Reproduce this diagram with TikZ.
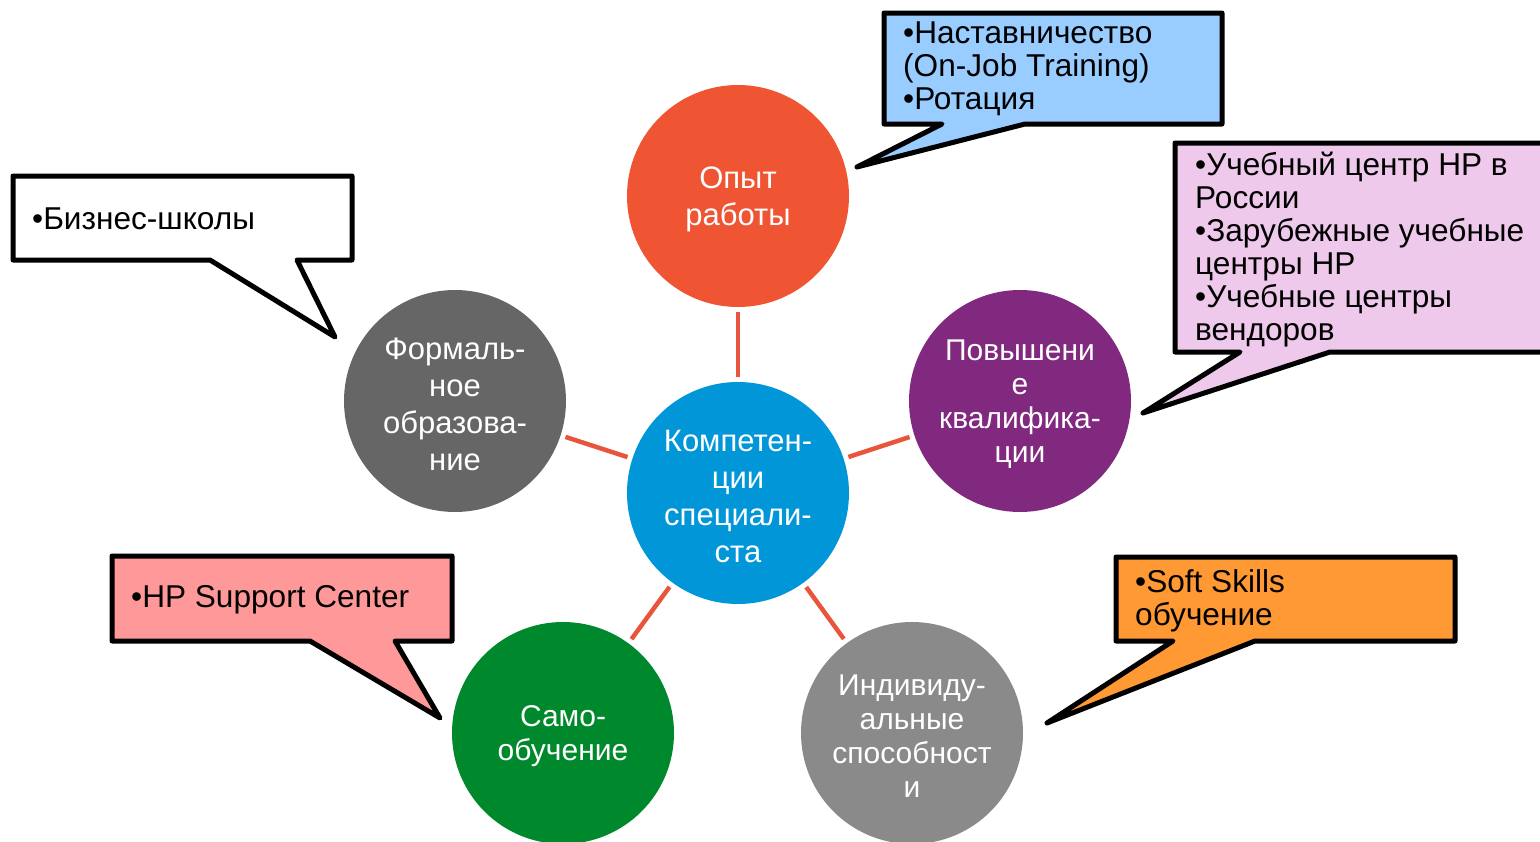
\documentclass[tikz,border=0pt]{standalone}
\usepackage{fontspec}
\setmainfont{Liberation Sans}
\definecolor{cBlue}{HTML}{0096D7}
\definecolor{cRed}{HTML}{EF5433}
\definecolor{cDark}{HTML}{666666}
\definecolor{cPurple}{HTML}{80297F}
\definecolor{cGreen}{HTML}{00892C}
\definecolor{cGrey}{HTML}{8A8A8A}
\definecolor{cLink}{HTML}{E8553C}
\definecolor{fBlue}{HTML}{99CCFF}
\definecolor{fPink}{HTML}{EEC9EB}
\definecolor{fRose}{HTML}{FF9999}
\definecolor{fOrange}{HTML}{FF9933}
\tikzset{
  bubble/.style={circle,minimum size=222pt,inner sep=0pt},
  btext/.style={text=white,align=center,inner sep=0pt,yshift=-3pt,
    font=\fontsize{31}{37}\selectfont},
  tighttext/.style={btext,font=\fontsize{30}{34}\selectfont},
  link/.style={draw=cLink,line width=4.5pt,shorten <=5pt,shorten >=5pt},
  callout/.style={draw=black,line width=5pt,line join=round},
  ctext/.style={anchor=west,align=left,inner sep=0pt,text=black,yshift=-3pt,
    font=\fontsize{31.6}{33}\selectfont}
}
\begin{document}
\begin{tikzpicture}[x=1pt,y=-1pt]
\useasboundingbox (0,0) rectangle (1540,841);
% circles
\node[bubble,fill=cBlue] (c) at (738,493) {};
\node[bubble,fill=cRed] (top) at (738,196) {};
\node[bubble,fill=cDark] (left) at (455,401) {};
\node[bubble,fill=cPurple] (right) at (1020,401) {};
\node[bubble,fill=cGreen] (bl) at (563,733) {};
\node[bubble,fill=cGrey] (br) at (912,733) {};
\node[btext] (lc) at (c) {Компетен-\\ции\\специали-\\ста};
\node[btext] (ltop) at (top) {Опыт\\работы};
\node[btext] (lleft) at (left) {Формаль-\\ное\\образова-\\ние};
\node[tighttext] (lright) at (right) {Повышени\\е\\квалифика-\\ции};
\node[tighttext] (lbl) at (bl) {Само-\\обучение};
\node[tighttext] (lbr) at (br) {Индивиду-\\альные\\способност\\и};
% links
\draw[link] (c) -- (top);
\draw[link] (c) -- (left);
\draw[link] (c) -- (right);
\draw[link] (c) -- (bl);
\draw[link] (c) -- (br);
% callout tips
\coordinate (tBlue) at (857,167);
\coordinate (tPink) at (1143,413);
\coordinate (tWhite) at (335,337);
\coordinate (tRose) at (440,718);
\coordinate (tOrange) at (1047,723);
% callouts
\draw[callout,fill=fBlue] (884,13) -- (1222,13) -- (1222,124) -- (1025,124) -- (tBlue) -- (942,124) -- (884,124) -- cycle;
\draw[callout,fill=fPink] (1175,143) -- (1550,143) -- (1550,352) -- (1330,352) -- (tPink) -- (1240,352) -- (1175,352) -- cycle;
\draw[callout,fill=white] (13,176) -- (352,176) -- (352,260) -- (297,260) -- (tWhite) -- (210,260) -- (13,260) -- cycle;
\draw[callout,fill=fRose] (112,556) -- (452,556) -- (452,641) -- (395,641) -- (tRose) -- (310,641) -- (112,641) -- cycle;
\draw[callout,fill=fOrange] (1116,557) -- (1455,557) -- (1455,641) -- (1255,641) -- (tOrange) -- (1173,641) -- (1116,641) -- cycle;
% callout texts
\node[ctext] (xBlue) at (903,66) {•Наставничество\\(On-Job Training)\\•Ротация};
\node[ctext] (xPink) at (1195,247) {•Учебный центр HP в\\России\\•Зарубежные учебные\\центры HP\\•Учебные центры\\вендоров};
\node[ctext] (xWhite) at (32,216) {•Бизнес-школы};
\node[ctext] (xRose) at (131,597) {•HP Support Center};
\node[ctext] (xOrange) at (1135,598) {•Soft Skills\\обучение};
\end{tikzpicture}
\end{document}
